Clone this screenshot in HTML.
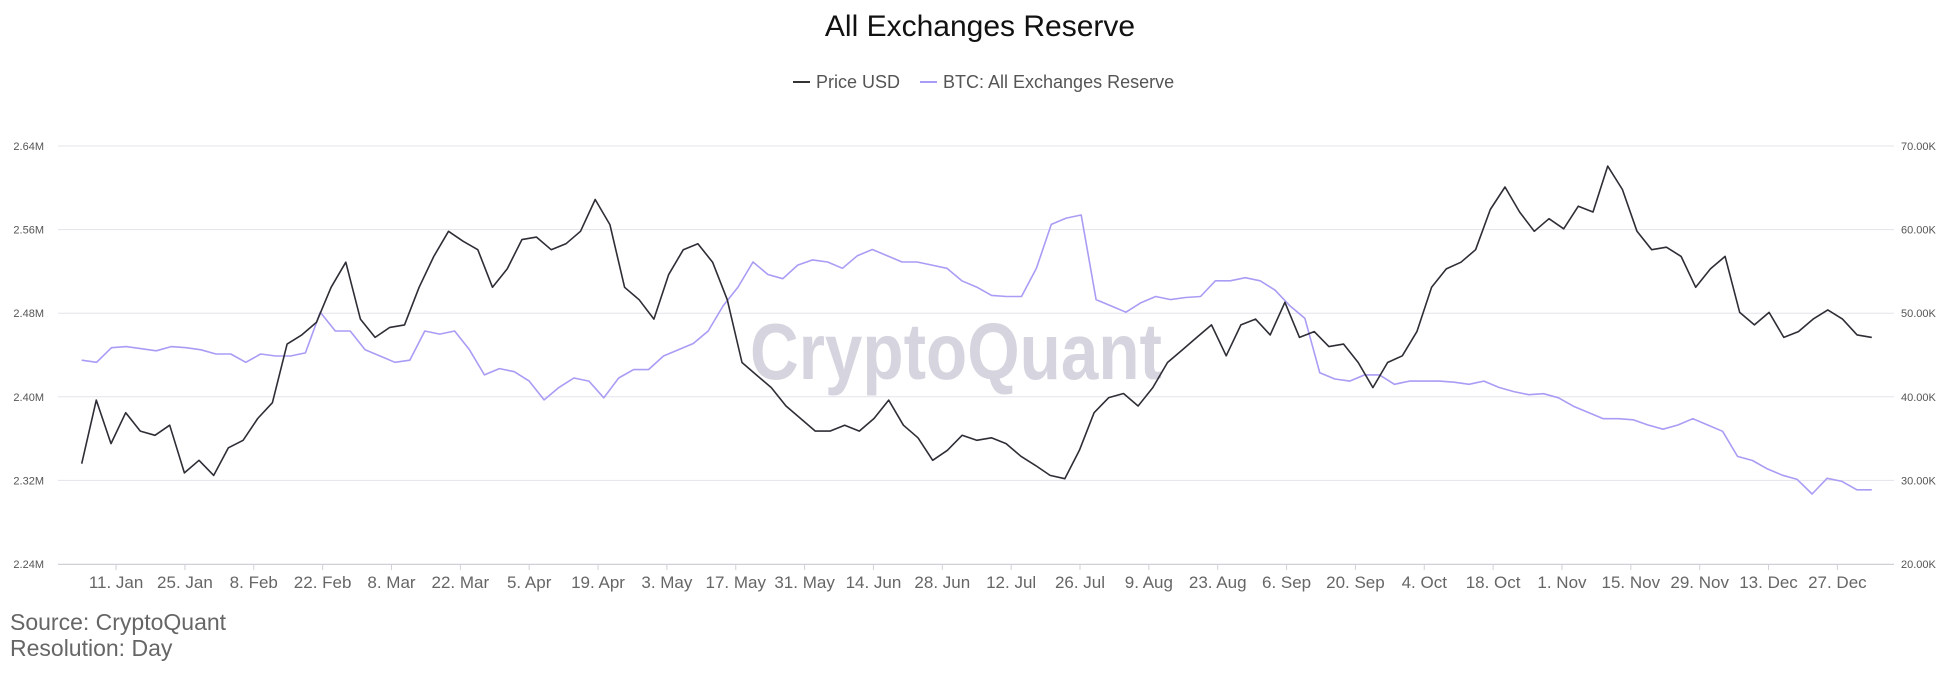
<!DOCTYPE html>
<html><head><meta charset="utf-8"><style>
html,body{margin:0;padding:0;background:#fff;}
svg{display:block;font-family:"Liberation Sans","DejaVu Sans",sans-serif;}
</style></head><body>
<svg id="chart" width="1960" height="680" viewBox="0 0 1960 680">
<text x="980" y="36" text-anchor="middle" font-size="30" fill="#111">All Exchanges Reserve</text>
<g>
<g><line x1="793" y1="82" x2="810" y2="82" stroke="#333" stroke-width="2"/><text x="816" y="88" font-size="18" fill="#555">Price USD</text></g>
<g><line x1="920" y1="82" x2="937" y2="82" stroke="#a99cf5" stroke-width="2"/><text x="943" y="88" font-size="18" fill="#555">BTC: All Exchanges Reserve</text></g>
</g>
<text x="956" y="379" text-anchor="middle" font-size="80" font-weight="bold" textLength="412" lengthAdjust="spacingAndGlyphs" fill="#d6d5df">CryptoQuant</text>
<g id="grid"></g><g id="lines"></g>
<text x="10" y="630" font-size="23" fill="#666">Source: CryptoQuant</text>
<text x="10" y="656" font-size="23" fill="#666">Resolution: Day</text>
</svg>
<script>
const leftTicks=[2.24,2.32,2.40,2.48,2.56,2.64];
const rightTicks=[20,30,40,50,60,70];
const xTickLabels=["11. Jan","25. Jan","8. Feb","22. Feb","8. Mar","22. Mar","5. Apr","19. Apr","3. May","17. May","31. May","14. Jun","28. Jun","12. Jul","26. Jul","9. Aug","23. Aug","6. Sep","20. Sep","4. Oct","18. Oct","1. Nov","15. Nov","29. Nov","13. Dec","27. Dec"];
const xTickDays=[10,24,38,52,66,80,94,108,122,136,150,164,178,192,206,220,234,248,262,276,290,304,318,332,346,360];
const priceK=[32.0,39.6,34.4,38.1,35.9,35.4,36.6,30.9,32.4,30.6,33.9,34.8,37.4,39.3,46.3,47.4,48.9,53.1,56.1,49.3,47.1,48.3,48.6,53.1,56.8,59.8,58.6,57.6,53.1,55.3,58.8,59.1,57.6,58.3,59.8,63.6,60.6,53.1,51.6,49.3,54.6,57.6,58.3,56.1,51.6,44.1,42.6,41.1,38.9,37.4,35.9,35.9,36.6,35.9,37.4,39.6,36.6,35.1,32.4,33.6,35.4,34.8,35.1,34.4,32.9,31.8,30.6,30.2,33.6,38.1,39.9,40.4,38.9,41.1,44.1,45.6,47.1,48.6,44.9,48.6,49.3,47.4,51.3,47.1,47.8,46.0,46.3,44.1,41.1,44.1,44.9,47.8,53.1,55.3,56.1,57.6,62.4,65.1,62.1,59.8,61.3,60.1,62.8,62.1,67.6,64.8,59.8,57.6,57.9,56.8,53.1,55.3,56.8,50.1,48.6,50.1,47.1,47.8,49.3,50.4,49.3,47.4,47.1];
const reserveM=[2.435,2.433,2.447,2.448,2.446,2.444,2.448,2.447,2.445,2.441,2.441,2.433,2.441,2.439,2.439,2.442,2.481,2.463,2.463,2.445,2.439,2.433,2.435,2.463,2.460,2.463,2.445,2.421,2.427,2.424,2.415,2.397,2.409,2.418,2.415,2.399,2.418,2.426,2.426,2.439,2.445,2.451,2.463,2.487,2.505,2.529,2.517,2.513,2.526,2.531,2.529,2.523,2.535,2.541,2.535,2.529,2.529,2.526,2.523,2.511,2.505,2.497,2.496,2.496,2.523,2.565,2.571,2.574,2.493,2.487,2.481,2.490,2.496,2.493,2.495,2.496,2.511,2.511,2.514,2.511,2.502,2.487,2.475,2.423,2.417,2.415,2.421,2.421,2.412,2.415,2.415,2.415,2.414,2.412,2.415,2.409,2.405,2.402,2.403,2.399,2.391,2.385,2.379,2.379,2.378,2.373,2.369,2.373,2.379,2.373,2.367,2.343,2.339,2.331,2.325,2.321,2.307,2.322,2.319,2.311,2.311];
const NS="http://www.w3.org/2000/svg";
const plotL=58,plotR=1894,plotT=146,plotB=564,firstDay=3,lastDay=367;
function xDay(d){return 66.9+d*4.918;}
function yLeft(v){return plotB-(v-2.24)/0.40*(plotB-plotT);}
function yRight(v){return plotB-(v-20)/50*(plotB-plotT);}
function mk(tag,attrs,parent){const e=document.createElementNS(NS,tag);for(const k in attrs)e.setAttribute(k,attrs[k]);parent.appendChild(e);return e;}
const grid=document.getElementById('grid'),lines=document.getElementById('lines');
leftTicks.forEach((t,i)=>{
 const y=yLeft(t);
 const gl=mk('line',{x1:plotL,x2:plotR,y1:y,y2:y,stroke:'#e4e3ea','stroke-width':1},grid);
 
 
 const lt=mk('text',{x:44,y:y+4,'text-anchor':'end','font-size':11,fill:'#555'},grid);
 lt.textContent=t.toFixed(2)+'M';
 
 
 const rt=mk('text',{x:1901,y:yRight(rightTicks[i])+4,'font-size':11,fill:'#555'},grid);
 rt.textContent=rightTicks[i].toFixed(2)+'K';
 
 
});
mk('line',{x1:plotL,x2:plotR,y1:plotB+0.5,y2:plotB+0.5,stroke:'#d0d0d8'},grid);
xTickLabels.forEach((lab,i)=>{
 const x=xDay(xTickDays[i]);
 mk('line',{x1:x,x2:x,y1:plotB,y2:plotB+6,stroke:'#d0d0d8'},grid);
 const t=mk('text',{x:x,y:588,'text-anchor':'middle','font-size':17,fill:'#666'},grid);
 t.textContent=lab;
 
 
});
function path(arr,yf,color,name){
 const n=arr.length;
 const d=arr.map((v,i)=>(i?'L':'M')+xDay(firstDay+i*(lastDay-firstDay)/(n-1)).toFixed(1)+' '+yf(v).toFixed(1)).join(' ');
 const p=mk('path',{d:d,fill:'none',stroke:color,'stroke-width':1.6,'stroke-linejoin':'round'},lines);
 
 
}
path(reserveM,yLeft,'#a99cf5','reserve-line');
path(priceK,yRight,'#2e2e36','price-line');
</script>
</body></html>
